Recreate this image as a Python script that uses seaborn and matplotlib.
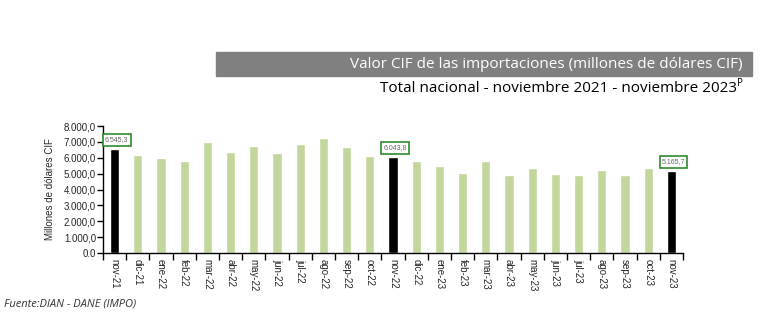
import matplotlib
matplotlib.use("Agg")
import matplotlib.pyplot as plt
from matplotlib import font_manager
from matplotlib.ticker import FixedLocator, FuncFormatter
import seaborn as sns
import pandas as pd

# Monthly CIF import value, millions of USD
months = ["nov-21", "dic-21", "ene-22", "feb-22", "mar-22", "abr-22", "may-22",
          "jun-22", "jul-22", "ago-22", "sep-22", "oct-22", "nov-22", "dic-22",
          "ene-23", "feb-23", "mar-23", "abr-23", "may-23", "jun-23", "jul-23",
          "ago-23", "sep-23", "oct-23", "nov-23"]
values = [6545.3, 6170, 5982, 5793, 6993, 6361, 6740, 6298, 6867, 7246, 6677,
          6108, 6043.8, 5793, 5477, 5035, 5793, 4908, 5350, 4971, 4908, 5224,
          4908, 5350, 5165.7]
highlighted = ["nov-21", "nov-22", "nov-23"]

df = pd.DataFrame({"mes": months, "valor": values})
palette = {m: ("#000000" if m in highlighted else "#c3d69b") for m in months}

sns.set_style("white")

# Use the regular-width Liberation Sans face for the axis text
arial_path = None
for p in font_manager.findSystemFonts():
    if p.endswith("LiberationSans-Regular.ttf"):
        arial_path = p
        break
if arial_path:
    font_manager.fontManager.addfont(arial_path)
    axis_font = font_manager.FontProperties(fname=arial_path)
else:
    axis_font = font_manager.FontProperties(family="DejaVu Sans")
plt.rcParams["font.family"] = [axis_font.get_name(), "DejaVu Sans"]

W, H = 762, 329
fig = plt.figure(figsize=(W / 100, H / 100), dpi=100)
ax = fig.add_axes([103 / W, (H - 253) / H, 580 / W, 127 / H])

sns.barplot(data=df, x="mes", y="valor", hue="mes", palette=palette,
            legend=False, width=0.39, saturation=1, ax=ax)

ax.set_xlim(-0.5, len(months) - 0.5)
ax.set_ylim(0, 8000)
ax.set_yticks(range(0, 8001, 1000))


def fmt(v, _pos=None):
    if v == 0:
        return "0.0"
    s = f"{v:,.1f}"
    return s.replace(",", "X").replace(".", ",").replace("X", ".")


ax.yaxis.set_major_formatter(FuncFormatter(fmt))
ax.tick_params(axis="y", length=4, width=1, color="black", pad=1,
               direction="out", left=True)
ax.set_xticks(range(len(months)))
ax.set_xticklabels(months, rotation=-90)
ax.tick_params(axis="x", which="major", length=0, pad=4)
for lbl in ax.get_xticklabels() + ax.get_yticklabels():
    lbl.set_fontproperties(axis_font)
    lbl.set_fontsize(7)
ax.xaxis.set_minor_locator(FixedLocator([i - 0.5 for i in range(len(months) + 1)]))
ax.tick_params(axis="x", which="minor", length=5, width=1, color="black",
               direction="out", bottom=True)
for s in ["top", "right"]:
    ax.spines[s].set_visible(False)
for s in ["left", "bottom"]:
    ax.spines[s].set_color("black")
    ax.spines[s].set_linewidth(1)
ax.set_xlabel("")
ax.set_ylabel("Millones de dólares CIF", fontproperties=axis_font, fontsize=7,
              labelpad=6)
ax.grid(False)

# Value boxes above the highlighted months
for i, (m, v) in enumerate(zip(months, values)):
    if m in highlighted:
        ax.annotate(fmt(v), (i, v), xytext=(1.5, 4), textcoords="offset points",
                    ha="center", va="bottom", fontsize=5, color="#666666",
                    fontproperties=axis_font,
                    bbox=dict(boxstyle="square,pad=0.3", fc="white",
                              ec="#2e8b2e", lw=1.2))

# Title band
fig.patches.append(plt.Rectangle((216 / W, (H - 76) / H), (752 - 216) / W, 24 / H,
                                 transform=fig.transFigure, color="#808080",
                                 zorder=0))
fig.text(743 / W, (H - 64) / H, "Valor CIF de las importaciones (millones de dólares CIF)",
         ha="right", va="center", color="white", fontsize=11, family="Open Sans")

sup = fig.text(743 / W, (H - 84) / H, "P", ha="right", va="center",
               fontsize=7, family="Open Sans", color="black")
fig.canvas.draw()
wp = sup.get_window_extent().width
fig.text((743 - wp) / W, (H - 89) / H, "Total nacional - noviembre 2021 - noviembre 2023",
         ha="right", va="center", fontsize=11, family="Open Sans", color="black")

fig.text(4 / W, (H - 304) / H, "Fuente:DIAN - DANE (IMPO)", ha="left", va="center",
         fontsize=8, style="italic", family="Open Sans", color="#333333")

fig.savefig("out.png", dpi=100)
